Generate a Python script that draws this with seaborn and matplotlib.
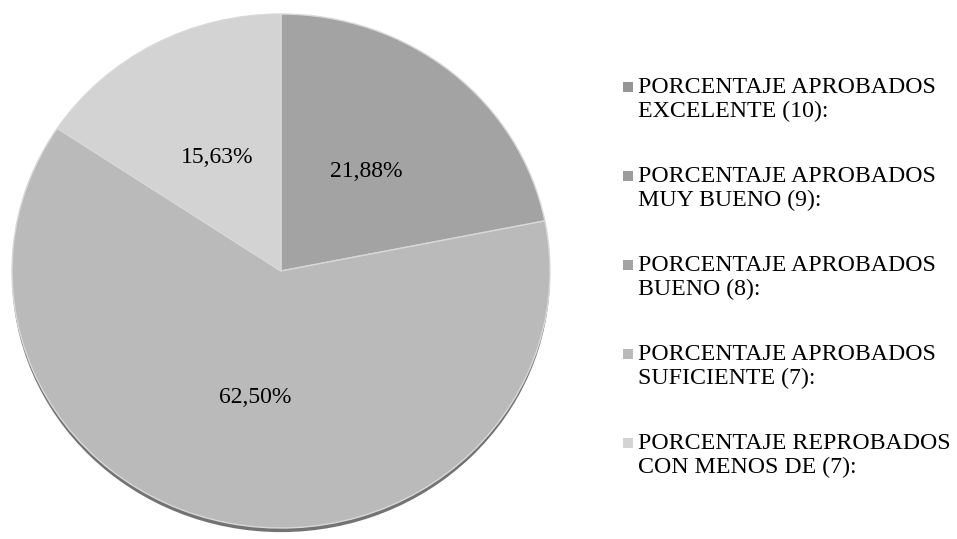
import matplotlib
matplotlib.use("Agg")
import matplotlib.pyplot as plt
from matplotlib.patches import Ellipse, Rectangle
import seaborn as sns

# Grade categories and their share of students (%)
categories = [
    "PORCENTAJE APROBADOS\nEXCELENTE (10):",
    "PORCENTAJE APROBADOS\nMUY BUENO (9):",
    "PORCENTAJE APROBADOS\nBUENO (8):",
    "PORCENTAJE APROBADOS\nSUFICIENTE (7):",
    "PORCENTAJE REPROBADOS\nCON MENOS DE (7):",
]
percentages = [0.0, 0.0, 21.88, 62.50, 15.63]
colors = ["#959595", "#9c9c9c", "#a3a3a3", "#bababa", "#d3d3d3"]

sns.set_theme(style="white")
plt.rcParams["font.family"] = ["Liberation Serif", "DejaVu Serif"]

W, H = 957, 539
fig = plt.figure(figsize=(W / 100, H / 100), dpi=100)
fig.patch.set_facecolor("white")

# pie area in pixel coordinates (left, top, right, bottom)
px_l, px_t, px_r, px_b = 12, 14, 550, 528
ax = fig.add_axes([px_l / W, (H - px_b) / H, (px_r - px_l) / W, (px_b - px_t) / H])

# soft drop shadow under the pie
ax.add_patch(Ellipse((0, -0.016), 2.0, 2.0, facecolor="#5a5a5a", edgecolor="none",
                     alpha=0.85, zorder=0, clip_on=False))

# each wedge is labelled with its own stated value
value_labels = iter(percentages)


def fmt(_pct):
    v = next(value_labels)
    return f"{v:.2f}%".replace(".", ",") if v > 0 else ""


wedges, texts, autotexts = ax.pie(
    percentages,
    colors=colors,
    startangle=90,
    counterclock=False,
    autopct=fmt,
    pctdistance=0.5,
    wedgeprops=dict(edgecolor="#d8d8d8", linewidth=1.0),
    textprops=dict(fontsize=17, color="black"),
)
for w in wedges:
    w.set_zorder(1)
    w.set_clip_on(False)
ax.set_aspect("auto")
ax.set_xlim(-1, 1)
ax.set_ylim(-1, 1)
ax.axis("off")

# legend: square marker beside a two-line label
first_line_y = [87, 176, 265, 354, 443]
for label, col, y in zip(categories, colors, first_line_y):
    fig.patches.append(Rectangle((623 / W, (H - y - 5) / H), 10 / W, 10 / H,
                                 transform=fig.transFigure, facecolor=col,
                                 edgecolor="none"))
    fig.text(638 / W, (H - y + 10) / H, label, fontsize=17.2, va="top", ha="left",
             linespacing=1.2, color="black")

fig.savefig("out.png", dpi=100, facecolor="white")
